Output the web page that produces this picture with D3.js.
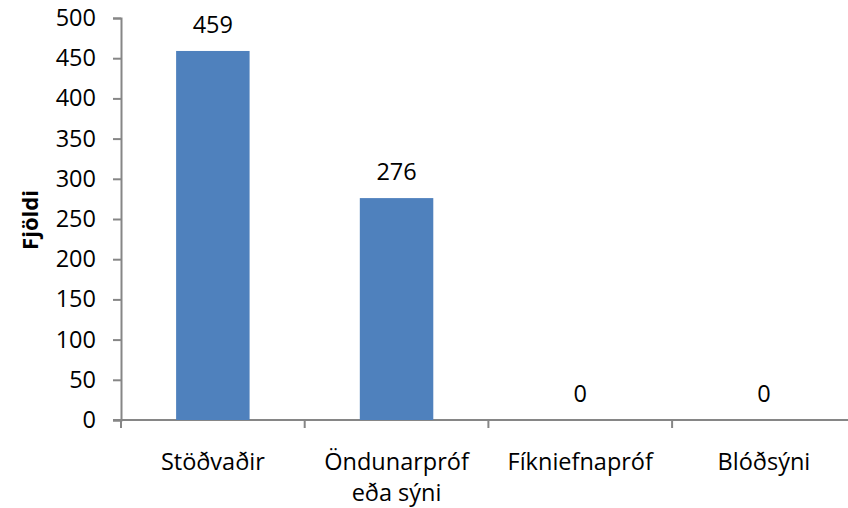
<!DOCTYPE html>
<html>
<head>
<meta charset="utf-8">
<script src="https://cdn.jsdelivr.net/npm/d3@7"></script>
<style>
  body { margin: 0; background: #fff; }
  text { font-family: "Open Sans", "Noto Sans", sans-serif; fill: #000; }
</style>
</head>
<body>
<svg width="848" height="508"></svg>
<script>
// chart data
var categories = [["Stöðvaðir"], ["Öndunarpróf", "eða sýni"], ["Fíkniefnapróf"], ["Blóðsýni"]];
var values = [459, 276, 0, 0];
var yTicks = [0, 50, 100, 150, 200, 250, 300, 350, 400, 450, 500];

var svg = d3.select("svg");
var plotLeft = 121, plotTop = 18, plotBottom = 420, step = 183.7;
var fs = 23.5;

var x = d3.scaleBand()
    .domain(d3.range(categories.length))
    .range([plotLeft, plotLeft + step * categories.length])
    .paddingInner(0.6).paddingOuter(0.3);

var y = d3.scaleLinear().domain([0, 500]).range([plotBottom, plotTop]);

// y axis
var yAxis = svg.append("g")
    .attr("transform", "translate(" + plotLeft + ",0)")
    .call(d3.axisLeft(y).tickValues(yTicks).tickSize(8).tickPadding(17));
yAxis.select(".domain").attr("stroke", "#868686").attr("stroke-width", 2);
yAxis.selectAll(".tick line").attr("stroke", "#868686").attr("stroke-width", 2);
yAxis.selectAll(".tick text").attr("font-size", fs).attr("font-family", "Open Sans").attr("fill", "#000");

// x axis line with category boundary ticks
svg.append("line")
    .attr("x1", plotLeft - 8).attr("x2", 848)
    .attr("y1", plotBottom).attr("y2", plotBottom)
    .attr("stroke", "#868686").attr("stroke-width", 2);
svg.selectAll(".xtick")
    .data(d3.range(categories.length + 1))
    .enter().append("line")
    .attr("x1", function(i) { return plotLeft + i * step; })
    .attr("x2", function(i) { return plotLeft + i * step; })
    .attr("y1", plotBottom).attr("y2", plotBottom + 8)
    .attr("stroke", "#868686").attr("stroke-width", 2);

// bars
svg.selectAll(".bar")
    .data(values)
    .enter().append("rect")
    .attr("x", function(d, i) { return x(i); })
    .attr("width", x.bandwidth())
    .attr("y", function(d) { return y(d); })
    .attr("height", function(d) { return plotBottom - y(d); })
    .attr("fill", "#4f81bd");

// value labels
svg.selectAll(".val")
    .data(values)
    .enter().append("text")
    .attr("x", function(d, i) { return x(i) + x.bandwidth() / 2; })
    .attr("y", function(d) { return y(d) - 18; })
    .attr("text-anchor", "middle")
    .attr("font-size", fs)
    .text(function(d) { return d; });

// category labels
categories.forEach(function(lines, i) {
  var t = svg.append("text")
      .attr("text-anchor", "middle")
      .attr("font-size", fs);
  lines.forEach(function(l, j) {
    t.append("tspan")
        .attr("x", x(i) + x.bandwidth() / 2)
        .attr("y", 470 + j * 31)
        .text(l);
  });
});

// y title
svg.append("text")
    .attr("transform", "translate(38,220) rotate(-90)")
    .attr("text-anchor", "middle")
    .attr("font-size", 22)
    .attr("font-weight", "bold")
    .text("Fjöldi");
</script>
</body>
</html>
